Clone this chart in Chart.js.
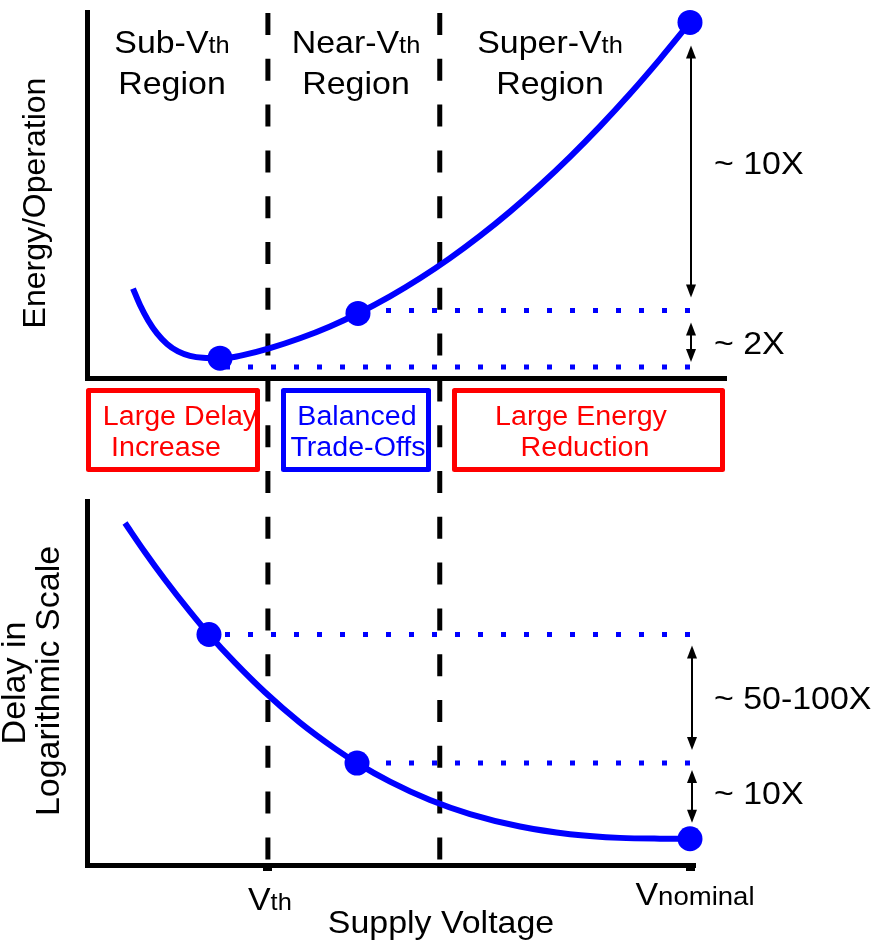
<!DOCTYPE html>
<html>
<head>
<meta charset="utf-8">
<script src="https://cdn.jsdelivr.net/npm/chart.js@4"></script>
<style>
  html, body { margin: 0; padding: 0; background: #ffffff; }
  #wrap { position: relative; width: 874px; height: 942px; overflow: hidden; background: #ffffff; }
  canvas { position: absolute; left: 0; }
  #energy { top: 0; }
  #delay { top: 480px; }
</style>
</head>
<body>
<div id="wrap">
  <canvas id="energy" width="874" height="480"></canvas>
  <canvas id="delay" width="874" height="462"></canvas>
</div>
<script>
// Supply voltage is normalised so that V_nominal = 1.
const V_NOMINAL = 1.0;
const regionBounds = [0.3, 0.585];            // V_th, near/super-threshold boundary
const xTickVolts = [0.3, 1.0];
const xTickNames = [['V', 'th'], ['V', 'nominal']];

// Energy per operation (arbitrary linear units)
const energyVolts  = [0.0763, 0.0879, 0.1012, 0.1161, 0.1327, 0.1509, 0.1708, 0.1924, 0.2206, 0.2405,
                      0.2587, 0.3035, 0.3532, 0.4030, 0.4494, 0.5025, 0.5522, 0.6020, 0.6517, 0.7015,
                      0.7512, 0.8010, 0.8507, 0.9005, 0.9502, 1.0];
const energyValues = [2.446, 1.997, 1.582, 1.220, 0.932, 0.728, 0.606, 0.552, 0.543, 0.566,
                      0.625, 0.818, 1.087, 1.412, 1.766, 2.232, 2.727, 3.279, 3.887, 4.552,
                      5.273, 6.051, 6.886, 7.777, 8.726, 9.728];
const energyPointVolts  = [0.2206, 0.4494, 1.0];
const energyPointValues = [0.543, 1.766, 9.728];
const energyGuideFrom   = [0.4494, 0.2206];
const energyGuideLevels = [1.85, 0.30];
const energyRatioLabels = ['~ 10X', '~ 2X'];   // nominal vs near-Vth, near-Vth vs minimum

// Delay (relative to nominal, log scale)
const delayVolts  = [0.0630, 0.0962, 0.1294, 0.1708, 0.2023, 0.2454, 0.2952, 0.3532, 0.4113, 0.4478,
                     0.5025, 0.5688, 0.6352, 0.7181, 0.8010, 0.8839, 0.9502, 1.0];
const delayValues = [14850, 6100, 2640, 1000, 500, 212, 86.1, 34.2, 15.5, 10,
                     5.69, 3.25, 2.12, 1.45, 1.15, 1.027, 1.003, 1];
const delayPointVolts  = [0.2023, 0.4478, 1.0];
const delayPointValues = [500, 10, 1];
const delayRatioLabels = ['~ 50-100X', '~ 10X'];

const regionNames = [['Sub-V', 'th'], ['Near-V', 'th'], ['Super-V', 'th']];
const tradeNames = [['Large Delay', 'Increase'], ['Balanced', 'Trade-Offs'], ['Large Energy', 'Reduction']];

// ---- styling ----
const FONT = '"Liberation Sans", Arial, Helvetica, sans-serif';
const STRETCH = 1.06;
const BLUE = '#0000ff', RED = '#ff0000', INK = '#000000';
const PX_PER_VOLT = 603, PLOT_LEFT = 87, PAGE_W = 874;
const TOP_VMAX = 1.06, BOTTOM_VMAX = 1.003;
const DASH = [22, 23.8], DASH_START = 13, DASH_PERIOD = 45.8;

const pts = (xs, ys) => xs.map((x, i) => ({ x, y: ys[i] }));

function textRuns(ctx, parts, x, y, align, color) {
  ctx.save();
  ctx.fillStyle = color || INK;
  ctx.textBaseline = 'alphabetic';
  ctx.textAlign = 'left';
  let total = 0;
  const widths = parts.map(([t, s]) => {
    ctx.font = s + 'px ' + FONT;
    const w = ctx.measureText(t).width;
    total += w;
    return w;
  });
  ctx.translate(x, y);
  ctx.scale(STRETCH, 1);
  let cx = align === 'center' ? -total / 2 : (align === 'right' ? -total : 0);
  parts.forEach(([t, s], i) => {
    ctx.font = s + 'px ' + FONT;
    ctx.fillText(t, cx, 0);
    cx += widths[i];
  });
  ctx.restore();
}

function verticalText(ctx, text, x, y, size) {
  ctx.save();
  ctx.translate(x, y);
  ctx.rotate(-Math.PI / 2);
  ctx.font = size + 'px ' + FONT;
  ctx.fillStyle = INK;
  ctx.textAlign = 'center';
  ctx.textBaseline = 'alphabetic';
  ctx.fillText(text, 0, 0);
  ctx.restore();
}

function doubleArrow(ctx, x, ya, yb) {
  const hl = 13, hw = 5;
  ctx.save();
  ctx.strokeStyle = INK; ctx.fillStyle = INK; ctx.lineWidth = 2;
  ctx.beginPath(); ctx.moveTo(x, ya + hl - 1); ctx.lineTo(x, yb - hl + 1); ctx.stroke();
  ctx.beginPath(); ctx.moveTo(x, ya); ctx.lineTo(x - hw, ya + hl); ctx.lineTo(x + hw, ya + hl); ctx.closePath(); ctx.fill();
  ctx.beginPath(); ctx.moveTo(x, yb); ctx.lineTo(x - hw, yb - hl); ctx.lineTo(x + hw, yb - hl); ctx.closePath(); ctx.fill();
  ctx.restore();
}

function regionDashes(chart, yFrom, yTo) {
  const { ctx } = chart;
  const xs = chart.scales.x;
  const absTop = chart.canvas.offsetTop;
  ctx.save();
  ctx.strokeStyle = INK;
  ctx.lineWidth = 5;
  ctx.setLineDash(DASH);
  ctx.lineDashOffset = (((absTop + yFrom - DASH_START) % DASH_PERIOD) + DASH_PERIOD) % DASH_PERIOD;
  regionBounds.forEach(v => {
    const x = xs.getPixelForValue(v);
    ctx.beginPath(); ctx.moveTo(x, yFrom); ctx.lineTo(x, yTo); ctx.stroke();
  });
  ctx.restore();
}

// dotted reference levels, traced from V_nominal back to the operating point
function guideSets(from, levels) {
  return levels.map((lvl, i) => ({
    label: 'guide' + i,
    data: [{ x: V_NOMINAL, y: lvl }, { x: from[i], y: lvl }],
    borderColor: BLUE, borderWidth: 5, borderDash: [5, 18], borderCapStyle: 'butt',
    pointRadius: 0, order: 2, clip: false
  }));
}

function baseOptions(vmax, padTop, padBottom, yScale) {
  return {
    responsive: false, animation: false, devicePixelRatio: 1, events: [],
    layout: { padding: { left: PLOT_LEFT, top: padTop, right: PAGE_W - PLOT_LEFT - vmax * PX_PER_VOLT, bottom: padBottom } },
    plugins: { legend: { display: false }, tooltip: { enabled: false } },
    scales: {
      x: {
        type: 'linear', min: 0, max: vmax, bounds: 'data',
        ticks: { display: false },
        grid: { display: false, drawTicks: false },
        border: { display: true, color: INK, width: 5 },
        afterFit: s => { s.height = 0; }
      },
      y: Object.assign({
        ticks: { display: false },
        grid: { display: false, drawTicks: false },
        border: { display: true, color: INK, width: 5 },
        afterFit: s => { s.width = 0; }
      }, yScale)
    }
  };
}

// ---- energy chart with region labels and the trade-off boxes ----
const energyDecor = {
  id: 'energyDecor',
  beforeDatasetsDraw(chart) {
    regionDashes(chart, DASH_START, chart.height);
  },
  afterDraw(chart) {
    const { ctx } = chart;
    const xs = chart.scales.x, ys = chart.scales.y;

    // region titles
    const centers = [172, 356, 550];
    regionNames.forEach((n, i) => {
      textRuns(ctx, [[n[0], 32], [n[1], 24]], centers[i], 53, 'center');
      textRuns(ctx, [['Region', 32]], centers[i], 94, 'center');
    });

    // trade-off boxes
    const boxes = [
      { x0: 86, x1: 260, color: RED, cx: [180, 166] },
      { x0: 281, x1: 431, color: BLUE, cx: [357, 358] },
      { x0: 452, x1: 725, color: RED, cx: [581, 585] }
    ];
    boxes.forEach((b, i) => {
      ctx.save();
      ctx.strokeStyle = b.color; ctx.lineWidth = 5; ctx.lineJoin = 'round';
      ctx.strokeRect(b.x0 + 2.5, 388 + 2.5, b.x1 - b.x0 - 5, 84 - 5);
      ctx.restore();
      textRuns(ctx, [[tradeNames[i][0], 27]], b.cx[0], 425, 'center', b.color);
      textRuns(ctx, [[tradeNames[i][1], 27]], b.cx[1], 456, 'center', b.color);
    });

    // ratio arrows
    const ax = xs.getPixelForValue(V_NOMINAL) + 1;
    const levels = [energyPointValues[2], energyGuideLevels[0], energyGuideLevels[1]];
    const insets = [[23, 13], [12, 5]];
    const labelDrop = [3, 12];
    for (let i = 0; i < 2; i++) {
      const ya = ys.getPixelForValue(levels[i]) + insets[i][0];
      const yb = ys.getPixelForValue(levels[i + 1]) - insets[i][1];
      doubleArrow(ctx, ax, ya, yb);
      textRuns(ctx, [[energyRatioLabels[i], 32]], 714, (ya + yb) / 2 + labelDrop[i], 'left');
    }

    verticalText(ctx, 'Energy/Operation', 45, 203, 32);
  }
};

new Chart(document.getElementById('energy'), {
  type: 'line',
  data: {
    datasets: [
      { label: 'points', data: pts(energyPointVolts, energyPointValues), showLine: false,
        pointRadius: 12.5, pointBackgroundColor: BLUE, pointBorderWidth: 0, order: 0, clip: false },
      { label: 'Energy/Operation', data: pts(energyVolts, energyValues), borderColor: BLUE, borderWidth: 6,
        pointRadius: 0, cubicInterpolationMode: 'monotone', order: 1, clip: false },
      ...guideSets(energyGuideFrom, energyGuideLevels)
    ]
  },
  options: baseOptions(TOP_VMAX, 10, 102, { type: 'linear', min: 0, max: 10, bounds: 'data' }),
  plugins: [energyDecor]
});

// ---- delay chart ----
const delayDecor = {
  id: 'delayDecor',
  beforeDatasetsDraw(chart) {
    regionDashes(chart, 0, chart.chartArea.bottom - 2.5);
  },
  afterDraw(chart) {
    const { ctx } = chart;
    const xs = chart.scales.x, ys = chart.scales.y;

    // tick labels
    const tickShift = [[2, 430], [5, 425]];
    xTickVolts.forEach((v, i) => {
      const x = xs.getPixelForValue(v) + tickShift[i][0];
      textRuns(ctx, [[xTickNames[i][0], 32], [xTickNames[i][1], i === 0 ? 24 : 26]], x, tickShift[i][1], 'center');
    });
    textRuns(ctx, [['Supply Voltage', 32]], 441, 453, 'center');

    // ratio arrows
    const ax = xs.getPixelForValue(V_NOMINAL) + 2;
    const levels = delayPointValues;
    const insets = [[11, 13], [7, 16]];
    const labelDrop = [11, 8];
    for (let i = 0; i < 2; i++) {
      const ya = ys.getPixelForValue(levels[i]) + insets[i][0];
      const yb = ys.getPixelForValue(levels[i + 1]) - insets[i][1];
      doubleArrow(ctx, ax, ya, yb);
      textRuns(ctx, [[delayRatioLabels[i], 32]], 714, (ya + yb) / 2 + labelDrop[i], 'left');
    }

    verticalText(ctx, 'Delay in', 25, 203, 34);
    verticalText(ctx, 'Logarithmic Scale', 59, 201, 34);
  }
};

const delayOpts = baseOptions(BOTTOM_VMAX, 21, 77, { type: 'logarithmic', min: 0.45, max: 29000, bounds: 'data' });
Object.assign(delayOpts.scales.x, {
  grid: { display: true, drawOnChartArea: false, drawTicks: true, tickLength: 6, lineWidth: 9, color: INK, tickColor: INK },
  afterBuildTicks: s => { s.ticks = xTickVolts.map(v => ({ value: v })); }
});

new Chart(document.getElementById('delay'), {
  type: 'line',
  data: {
    datasets: [
      { label: 'points', data: pts(delayPointVolts, delayPointValues), showLine: false,
        pointRadius: 12.5, pointBackgroundColor: BLUE, pointBorderWidth: 0, order: 0, clip: false },
      { label: 'Delay', data: pts(delayVolts, delayValues), borderColor: BLUE, borderWidth: 6,
        pointRadius: 0, cubicInterpolationMode: 'monotone', order: 1, clip: false },
      ...guideSets(delayPointVolts.slice(0, 2), delayPointValues.slice(0, 2))
    ]
  },
  options: delayOpts,
  plugins: [delayDecor]
});
</script>
</body>
</html>
